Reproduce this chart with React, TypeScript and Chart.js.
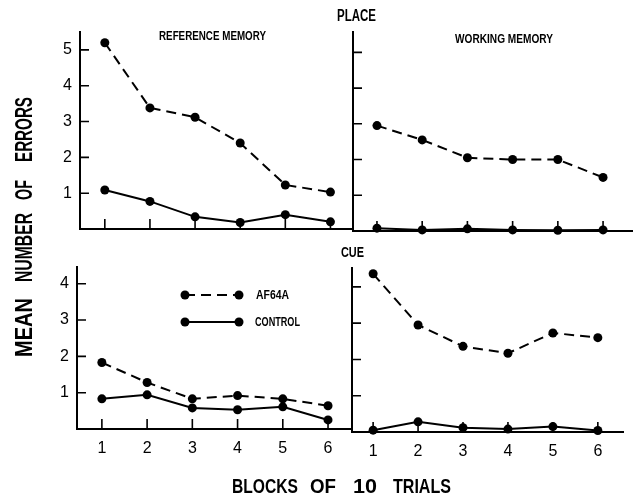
import React, { useEffect, useRef } from 'react';
import { Chart, registerables } from 'chart.js';

Chart.register(...registerables);

// ---- data ----
const blocks = [1, 2, 3, 4, 5, 6];
const xTickLabels = ['1', '2', '3', '4', '5', '6'];
const yTicksPlace = [1, 2, 3, 4, 5];
const yTicksCue = [1, 2, 3, 4];

const placeRefAF64A = [5.2, 3.38, 3.12, 2.4, 1.23, 1.03];
const placeRefControl = [1.09, 0.77, 0.34, 0.18, 0.4, 0.2];
const placeWorkAF64A = [2.95, 2.55, 2.05, 2.0, 2.0, 1.5];
const placeWorkControl = [0.08, 0.03, 0.06, 0.03, 0.02, 0.03];
const cueRefAF64A = [1.83, 1.28, 0.83, 0.92, 0.83, 0.64];
const cueRefControl = [0.83, 0.94, 0.58, 0.53, 0.61, 0.25];
const cueWorkAF64A = [4.36, 2.95, 2.36, 2.17, 2.73, 2.6];
const cueWorkControl = [0.05, 0.28, 0.12, 0.08, 0.15, 0.04];

const W = 642;
const H = 501;
const Y_AXIS_W = 40;
const X_AXIS_H = 30;
const TICK_FONT = { family: "'Liberation Sans', Arial, sans-serif", size: 16 };

type Panel = {
  area: { left: number; right: number; top: number; bottom: number };
  xMin: number;
  xMax: number;
  yMax: number;
  yTicks: number[];
  showX: boolean;
  showY: boolean;
  af: number[];
  ctrl: number[];
  legend?: boolean;
};

const panels: Panel[] = [
  { area: { left: 80, right: 353, top: 32, bottom: 229 }, xMin: 0.45, xMax: 6.5, yMax: 5.5, yTicks: yTicksPlace, showX: false, showY: true, af: placeRefAF64A, ctrl: placeRefControl },
  { area: { left: 353, right: 632, top: 32, bottom: 231 }, xMin: 0.47, xMax: 6.64, yMax: 5.57, yTicks: yTicksPlace, showX: false, showY: false, af: placeWorkAF64A, ctrl: placeWorkControl },
  { area: { left: 77, right: 352, top: 267, bottom: 429 }, xMin: 0.45, xMax: 6.53, yMax: 4.46, yTicks: yTicksCue, showX: true, showY: true, af: cueRefAF64A, ctrl: cueRefControl, legend: true },
  { area: { left: 352, right: 623, top: 268, bottom: 432 }, xMin: 0.53, xMax: 6.56, yMax: 4.52, yTicks: yTicksCue, showX: true, showY: false, af: cueWorkAF64A, ctrl: cueWorkControl },
];

const DASH = [10, 6];

const innerTicksPlugin = {
  id: 'innerTicks',
  afterDatasetsDraw(chart: any, _args: any, opts: any) {
    const { ctx, chartArea } = chart;
    const xs = chart.scales.x;
    const ys = chart.scales.y;
    ctx.save();
    ctx.strokeStyle = '#000';
    ctx.lineWidth = 1.6;
    ctx.beginPath();
    for (const v of opts.yTicks as number[]) {
      const py = ys.getPixelForValue(v);
      ctx.moveTo(chartArea.left, py);
      ctx.lineTo(chartArea.left + 9, py);
    }
    for (const v of blocks) {
      const px = xs.getPixelForValue(v);
      ctx.moveTo(px, chartArea.bottom);
      ctx.lineTo(px, chartArea.bottom - 10);
    }
    ctx.stroke();
    ctx.restore();
  },
};

const legendPlugin = {
  id: 'panelLegend',
  afterDraw(chart: any, _args: any, opts: any) {
    if (!opts.show) return;
    const { ctx } = chart;
    const items = [
      { label: 'AF64A', dash: DASH, y: 295, tx: 256, tl: 33 },
      { label: 'CONTROL', dash: [] as number[], y: 322, tx: 255, tl: 45 },
    ];
    ctx.save();
    for (const it of items) {
      ctx.strokeStyle = '#000';
      ctx.lineWidth = 2;
      ctx.setLineDash(it.dash);
      ctx.beginPath();
      ctx.moveTo(185, it.y);
      ctx.lineTo(239, it.y);
      ctx.stroke();
      ctx.setLineDash([]);
      ctx.fillStyle = '#000';
      for (const cx of [185, 239]) {
        ctx.beginPath();
        ctx.arc(cx, it.y, 4.5, 0, Math.PI * 2);
        ctx.fill();
      }
      ctx.font = "bold 12px 'Liberation Sans', Arial, sans-serif";
      ctx.textBaseline = 'middle';
      const w = ctx.measureText(it.label).width;
      ctx.save();
      ctx.translate(it.tx, it.y + 1);
      ctx.scale(it.tl / w, 1);
      ctx.fillText(it.label, 0, 0);
      ctx.restore();
    }
    ctx.restore();
  },
};

function PanelChart({ p }: { p: Panel }) {
  const ref = useRef<HTMLCanvasElement | null>(null);
  useEffect(() => {
    if (!ref.current) return;
    const ds = (data: number[], dashed: boolean, label: string) => ({
      label,
      data: blocks.map((b, i) => ({ x: b, y: data[i] })),
      borderColor: '#000',
      backgroundColor: '#000',
      borderWidth: 2,
      borderDash: dashed ? DASH : [],
      pointRadius: 4.5,
      pointBackgroundColor: '#000',
      pointBorderWidth: 0,
      tension: 0,
      clip: false as any,
    });
    const chart = new Chart(ref.current, {
      type: 'line',
      data: {
        datasets: [ds(p.af, true, 'AF64A'), ds(p.ctrl, false, 'CONTROL')],
      },
      options: {
        animation: false,
        responsive: false,
        devicePixelRatio: 1,
        layout: {
          padding: {
            left: p.area.left - Y_AXIS_W,
            top: p.area.top,
            right: W - p.area.right,
            bottom: H - p.area.bottom - X_AXIS_H,
          },
        },
        plugins: {
          legend: { display: false },
          tooltip: { enabled: false },
          innerTicks: { yTicks: p.yTicks },
          panelLegend: { show: !!p.legend },
        } as any,
        scales: {
          x: {
            type: 'linear',
            min: p.xMin,
            max: p.xMax,
            afterBuildTicks: (s: any) => {
              s.ticks = blocks.map((v) => ({ value: v }));
            },
            afterFit: (s: any) => {
              s.height = X_AXIS_H;
              s.paddingLeft = 0;
              s.paddingRight = 0;
            },
            grid: { display: false, drawTicks: false },
            border: { display: true, color: '#000', width: 2 },
            ticks: {
              display: p.showX,
              autoSkip: false,
              maxRotation: 0,
              padding: 10,
              color: '#000',
              font: TICK_FONT,
              callback: (v: any) => xTickLabels[blocks.indexOf(Number(v))] ?? '',
            },
          },
          y: {
            type: 'linear',
            min: 0,
            max: p.yMax,
            afterBuildTicks: (s: any) => {
              s.ticks = p.yTicks.map((v) => ({ value: v }));
            },
            afterFit: (s: any) => {
              s.width = Y_AXIS_W;
            },
            grid: { display: false, drawTicks: false },
            border: { display: true, color: '#000', width: 2 },
            ticks: {
              display: p.showY,
              padding: 8,
              color: '#000',
              font: TICK_FONT,
              callback: (v: any) => String(v),
            },
          },
        },
      },
      plugins: [innerTicksPlugin, legendPlugin],
    });
    return () => chart.destroy();
  }, [p]);
  return (
    <canvas
      ref={ref}
      width={W}
      height={H}
      style={{ position: 'absolute', left: 0, top: 0, width: W, height: H }}
    />
  );
}

const FONT = "'Liberation Sans', Arial, sans-serif";

type T = { t: string; x: number; y: number; len: number; size: number };
const flatTexts: T[] = [
  { t: 'PLACE', x: 337, y: 21, len: 39, size: 16 },
  { t: 'CUE', x: 341, y: 257, len: 23, size: 15 },
  { t: 'REFERENCE MEMORY', x: 159, y: 40, len: 107, size: 12 },
  { t: 'WORKING MEMORY', x: 455, y: 43, len: 98, size: 12 },
  { t: 'BLOCKS', x: 232, y: 493, len: 66, size: 21 },
  { t: 'OF', x: 310, y: 493, len: 26, size: 21 },
  { t: '10', x: 353, y: 493, len: 24, size: 21 },
  { t: 'TRIALS', x: 393, y: 493, len: 58, size: 21 },
];
// rotated: start = bottom (y), length upward
const rotTexts: T[] = [
  { t: 'MEAN', x: 32, y: 357, len: 59, size: 23 },
  { t: 'NUMBER', x: 32, y: 282, len: 69, size: 23 },
  { t: 'OF', x: 32, y: 200, len: 20, size: 23 },
  { t: 'ERRORS', x: 32, y: 162, len: 65, size: 23 },
];

export default function App() {
  return (
    <div style={{ position: 'absolute', left: 0, top: 0, width: W, height: H, background: '#fff', overflow: 'hidden' }}>
      {panels.map((p, i) => (
        <PanelChart key={i} p={p} />
      ))}
      <svg width={W} height={H} style={{ position: 'absolute', left: 0, top: 0 }}>
        {flatTexts.map((d, i) => (
          <text key={i} x={d.x} y={d.y} textLength={d.len} lengthAdjust="spacingAndGlyphs" fontFamily={FONT} fontWeight="bold" fontSize={d.size} fill="#000">
            {d.t}
          </text>
        ))}
        {rotTexts.map((d, i) => (
          <text key={'r' + i} x={d.x} y={d.y} transform={`rotate(-90 ${d.x} ${d.y})`} textLength={d.len} lengthAdjust="spacingAndGlyphs" fontFamily={FONT} fontWeight="bold" fontSize={d.size} fill="#000">
            {d.t}
          </text>
        ))}
      </svg>
    </div>
  );
}
